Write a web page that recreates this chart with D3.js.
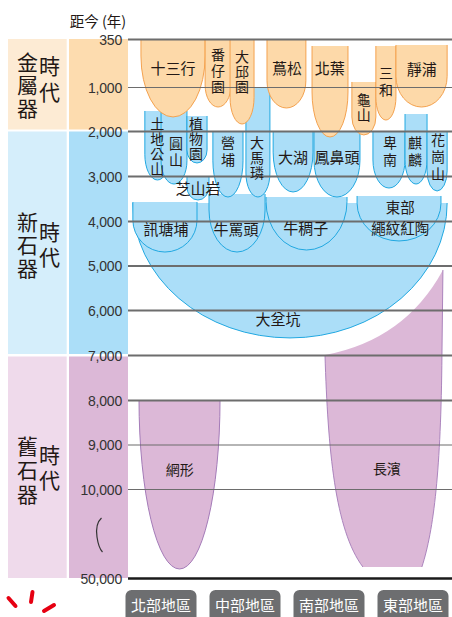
<!DOCTYPE html>
<html><head><meta charset="utf-8">
<script src="https://cdn.jsdelivr.net/npm/d3@7"></script>
<style>body{margin:0;background:#fff}svg{display:block}</style>
</head><body><svg id="c" width="452" height="617"></svg>
<script>
// ---------- data ----------
const tickYears  = [350,1000,2000,3000,4000,5000,6000,7000,8000,9000,10000,50000];
const majorTicks = [350,2000,3000,4000,5000,6000,7000,8000];
const eras       = ["metal","neo","paleo"];
const eraWords   = [["金屬器","時代"],["新石器","時代"],["舊石器","時代"]];
const eraStart   = [350, 2000, 7000];
const eraEnd     = [2000, 7000, 50000];
const regions    = ["北部地區","中部地區","南部地區","東部地區"];

const siteNames = ["大坌坑","訊塘埔","牛罵頭","牛稠子","東部繩紋紅陶","芝山岩","土地公山","圓山","植物園","營埔","大馬璘","大湖","鳳鼻頭","卑南","麒麟","花崗山",
                   "十三行","番仔園","大邱園","蔦松","北葉","龜山","三和","靜浦","網形","長濱"];
const siteEra   = ["neo","neo","neo","neo","neo","neo","neo","neo","neo","neo","neo","neo","neo","neo","neo","neo",
                   "metal","metal","metal","metal","metal","metal","metal","metal","paleo","paleo"];
const siteStart = [3600,3578,3400,3467,3444,3000,1545,1545,1659,2000,1000,2000,2000,2000,1614,2000,
                   350,350,350,350,445,932,445,431,8000,5100];
const siteEnd   = [6622,4697,4697,4652,4449,3533,3089,3178,2711,3467,3467,3356,3467,3267,3178,3333,
                   1682,1455,1841,1477,2133,2089,1750,1455,45950,45053];

// ---------- layout (lanes in % of plot width, label placement) ----------
const layout = {
  "大坌坑":   {x0:1.5, x1:98.5, k:0.86, lines:["大坌坑"], lx:46.3, ly:6222},
  "訊塘埔":   {x0:1.5, x1:21.3, k:1.0, lines:["訊塘埔"], lx:11.7, ly:4202},
  "牛罵頭":   {x0:25.0, x1:42.3, k:1.5, lines:["牛罵頭"], lx:33.3, ly:4202},
  "牛稠子":   {x0:42.6, x1:67.6, k:1.2, lines:["牛稠子"], lx:54.9, ly:4180},
  "東部繩紋紅陶":{x0:70.7, x1:96.6, k:0.9, lines:["東部","繩紋紅陶"], lx:84.0, ly:3700, step:21.5, fs:14.5},
  "芝山岩":   {x0:18.2, x1:25.0, k:1.2, lines:["芝山岩"], lx:21.6, ly:3289},
  "土地公山": {x0:5.2, x1:13.0, k:2.0, v:"土地公山", lx:9.0, ly:1841, step:15, fs:14},
  "圓山":     {x0:10.2, x1:18.2, k:1.8, v:"圓山", lx:14.8, ly:2289, step:16, fs:14},
  "植物園":   {x0:18.2, x1:24.4, k:1.3, v:"植物園", lx:21.0, ly:1841, step:15, fs:14},
  "營埔":     {x0:26.2, x1:35.5, k:2.4, v:"營埔", lx:30.9, ly:2267, step:17, fs:14},
  "大馬璘":   {x0:36.4, x1:43.8, k:2.0, v:"大馬璘", lx:39.8, ly:2267, step:15, fs:14},
  "大湖":     {x0:44.8, x1:57.1, k:2.0, lines:["大湖"], lx:50.9, ly:2600},
  "鳳鼻頭":   {x0:57.4, x1:71.6, k:1.6, lines:["鳳鼻頭"], lx:64.5, ly:2600},
  "卑南":     {x0:75.6, x1:85.5, k:1.75, v:"卑南", lx:80.9, ly:2267, step:17, fs:14},
  "麒麟":     {x0:85.5, x1:92.3, k:2.2, v:"麒麟", lx:88.6, ly:2267, step:17, fs:14},
  "花崗山":   {x0:92.3, x1:98.5, k:2.0, v:"花崗山", lx:95.7, ly:2200, step:17, fs:14},
  "十三行":   {x0:4.0, x1:23.8, k:1.9, lines:["十三行"], lx:13.9, ly:756},
  "番仔園":   {x0:23.8, x1:31.8, k:1.7, v:"番仔園", lx:27.8, ly:567, step:16, fs:14},
  "大邱園":   {x0:31.5, x1:38.9, k:2.2, v:"大邱園", lx:35.2, ly:594, step:15, fs:14},
  "蔦松":     {x0:42.9, x1:54.9, k:1.4, lines:["蔦松"], lx:49.1, ly:756},
  "北葉":     {x0:56.8, x1:67.9, k:2.5, lines:["北葉"], lx:62.3, ly:756},
  "龜山":     {x0:69.1, x1:76.5, k:1.5, v:"龜山", lx:72.8, ly:1295, step:15, fs:14},
  "三和":     {x0:76.5, x1:82.7, k:2.3, v:"三和", lx:79.6, ly:810, step:17, fs:14},
  "靜浦":     {x0:82.7, x1:98.5, k:1.2, lines:["靜浦"], lx:90.7, ly:770},
  "網形":     {x0:3.4, x1:28.4, k:5, lines:["網形"], lx:16.0, ly:9573, fs:14},
  "長濱":     {custom:true, lines:["長濱"], lx:79.9, ly:9551, fs:14}
};
// 長濱 outline: [command, %x, year ...]
const changbinOutline = [
  ["M",97.2,5101],
  ["Q",85.5,6667, 60.8,7000],
  ["C",61.7,9124, 63.9,28425, 72.5,45053],
  ["L",90.7,45053],
  ["C",94.4,28425, 96.6,9573, 96.9,7000],
  ["L",97.2,5101]
];

// ---------- scales ----------
const W = 452, H = 617, plotL = 128, plotR = 452;
const y = d3.scaleLinear().domain(tickYears)
  .range([39,87,131,176,221,265.5,310,355,400,444.5,489,578]);
const x = d3.scaleLinear().domain([0,100]).range([plotL, plotR]);
const rx = d3.scalePoint().domain(regions).range([161, 413]);

const CJK = "'Noto Sans CJK TC','Noto Sans CJK SC',sans-serif";
const eraColor = {
  metal:{light:"#fdebd4", mid:"#fddcaf", fill:"#fdd9a9", stroke:"#f4a24f"},
  neo:  {light:"#d5eefb", mid:"#abdef8", fill:"#abdef8", stroke:"#21a8e1"},
  paleo:{light:"#efdaeb", mid:"#dcb8d7", fill:"#dcb8d7", stroke:"#a47bb8"}
};
const ink = "#231815";

const svg = d3.select("#c");
svg.append("rect").attr("width",W).attr("height",H).attr("fill","#fff");

// vertical text helper: one text element, characters stacked top-to-bottom
function vText(g, str, cx, firstY, fs, step, fill){
  const ls = step - fs;
  return g.append("text")
    .attr("x", cx)
    .attr("y", firstY - fs/2)
    .style("writing-mode","vertical-rl")
    .style("font-family",CJK).style("font-size",fs+"px")
    .style("letter-spacing", ls+"px")
    .attr("fill", fill).text(str);
}

// ---------- era bands ----------
const gBands = svg.append("g");
eras.forEach((e,i)=>{
  const y0 = y(eraStart[i]) + (i===0?0:(i===1?0.5:1.5));
  const y1 = y(eraEnd[i]) - (i===2?0:(i===0?1.5:1));
  gBands.append("rect").attr("x",8).attr("y",y0).attr("width",58.7).attr("height",y1-y0).attr("fill",eraColor[e].light);
  gBands.append("rect").attr("x",69).attr("y",y0).attr("width",plotL-69).attr("height",y1-y0).attr("fill",eraColor[e].mid);
});

// era words
const eraWordPos = [{a:62,b:66},{a:222,b:232},{a:446,b:455}];
eras.forEach((e,i)=>{
  const [w1,w2] = eraWords[i];
  const step1 = i===0?23:(i===1?23:24), step2 = i===0?26:25;
  vText(gBands, w1, 27.5, eraWordPos[i].a, 21, step1, ink);
  vText(gBands, w2, 49.5, eraWordPos[i].b, 21, step2, ink);
});

// axis title
svg.append("text").attr("x",98).attr("y",20).attr("text-anchor","middle").attr("dominant-baseline","central")
  .style("font-family",CJK).style("font-size","14.5px").attr("fill",ink).text("距今 (年)");

// squiggle (axis break)
svg.append("path").attr("d","M101.5,518 C97,522 96,530 97,537 C98,544 99.5,549 102.5,552")
  .attr("fill","none").attr("stroke","#333").attr("stroke-width",1.2);

// ---------- site shapes ----------
const gShapes = svg.append("g");
function bulletPaths(d){
  const L = layout[d.name];
  const x0 = x(L.x0), x1 = x(L.x1), yt = y(d.start), yb = y(d.end);
  const r = (x1-x0)/2;
  const ry = Math.min(yb-yt, L.k*r);
  const ys = yb - ry;
  const fill = `M${x0},${yt}L${x1},${yt}L${x1},${ys}A${r},${ry} 0 0 1 ${x0},${ys}Z`;
  const stroke = `M${x1},${yt}L${x1},${ys}A${r},${ry} 0 0 1 ${x0},${ys}L${x0},${yt}`;
  return {fill, stroke};
}
function customPath(){
  const p = d3.path();
  changbinOutline.forEach(c=>{
    const t = c[0], v = c.slice(1);
    const pts = []; for(let i=0;i<v.length;i+=2) pts.push([x(v[i]), y(v[i+1])]);
    if(t==="M") p.moveTo(...pts[0]);
    else if(t==="L") p.lineTo(...pts[0]);
    else if(t==="Q") p.quadraticCurveTo(...pts[0], ...pts[1]);
    else if(t==="C") p.bezierCurveTo(...pts[0], ...pts[1], ...pts[2]);
  });
  p.closePath();
  return p.toString();
}
const sites = siteNames.map((n,i)=>({name:n, era:siteEra[i], start:siteStart[i], end:siteEnd[i]}));
sites.forEach(d=>{
  const c = eraColor[d.era];
  if(layout[d.name].custom){
    gShapes.append("path").attr("d",customPath()).attr("fill",c.fill);
    const p = d3.path();
    p.moveTo(x(96.9),y(7000)); p.bezierCurveTo(x(96.6),y(9573),x(94.4),y(28425),x(90.7),y(45053));
    p.moveTo(x(60.8),y(7000)); p.bezierCurveTo(x(61.7),y(9124),x(63.9),y(28425),x(72.5),y(45053));
    p.moveTo(x(97.2),y(5101)); p.lineTo(x(96.9),y(7000));
    gShapes.append("path").attr("d",p.toString()).attr("fill","none").attr("stroke",c.stroke).attr("stroke-width",0.9);
  } else {
    const ps = bulletPaths(d);
    gShapes.append("path").attr("d",ps.fill).attr("fill",c.fill);
    gShapes.append("path").attr("d",ps.stroke).attr("fill","none").attr("stroke",c.stroke).attr("stroke-width",1);
  }
});

// ---------- grid lines ----------
const grid = svg.append("g").attr("transform",`translate(${plotL},0)`)
  .call(d3.axisLeft(y).tickValues(tickYears).tickSize(-(plotR-plotL)).tickFormat(""));
grid.select(".domain").remove();
grid.selectAll(".tick line")
  .attr("stroke", d=> d===50000 ? "#1a1a1a" : "#6d6d6d")
  .attr("stroke-width", d=> d===50000 ? 2.6 : (majorTicks.includes(d) ? 2 : 1.1));

// ---------- tick labels ----------
const ax = svg.append("g").attr("transform",`translate(${plotL},0)`)
  .call(d3.axisLeft(y).tickValues(tickYears).tickSize(0).tickPadding(6).tickFormat(d3.format(",")));
ax.select(".domain").remove();
ax.selectAll(".tick text").style("font-family","'Liberation Sans',Arial,sans-serif")
  .style("font-size","14px").attr("fill","#333").attr("dy","0.36em").attr("letter-spacing","-0.2");

// ---------- site labels ----------
const gLabels = svg.append("g");
sites.forEach(d=>{
  const L = layout[d.name];
  const fs = L.fs || 15;
  if(L.v){
    vText(gLabels, L.v, x(L.lx), y(L.ly), fs, L.step, ink);
  } else {
    L.lines.forEach((s,i)=>{
      gLabels.append("text").attr("text-anchor","middle")
        .attr("x",x(L.lx)).attr("y",y(L.ly)+i*(L.step||0)).attr("dy","0.35em")
        .style("font-family",CJK).style("font-size",fs+"px").attr("fill",ink).text(s);
    });
  }
});

// ---------- region buttons ----------
const gReg = svg.append("g");
regions.forEach(r=>{
  const cx = rx(r);
  gReg.append("rect").attr("x",cx-35.5).attr("y",590).attr("width",71).attr("height",34).attr("rx",6)
    .attr("fill","#6d6e70");
  gReg.append("text").attr("x",cx).attr("y",604.5).attr("text-anchor","middle").attr("dominant-baseline","central")
    .style("font-family",CJK).style("font-size","15px").attr("fill","#fff").text(r);
});

// decorative red marks
const red = svg.append("g").attr("stroke","#e60012").attr("stroke-width",4).attr("stroke-linecap","round");
red.append("line").attr("x1",8.5).attr("y1",598).attr("x2",15.5).attr("y2",606);
red.append("line").attr("x1",32.5).attr("y1",592).attr("x2",31).attr("y2",602);
red.append("line").attr("x1",44).attr("y1",611).attr("x2",54).attr("y2",605);
</script></body></html>
